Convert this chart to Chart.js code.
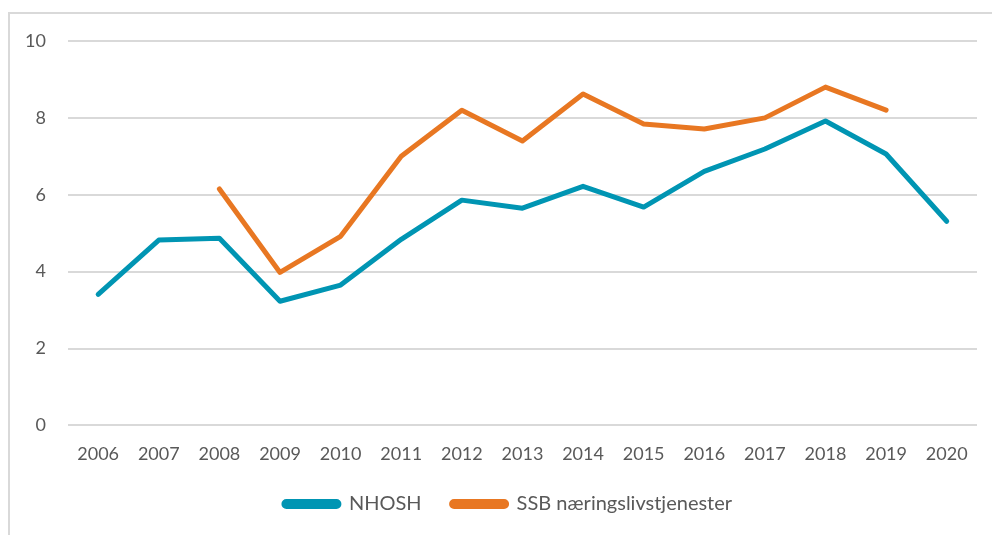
<!DOCTYPE html>
<html>
<head>
<meta charset="utf-8">
<script src="https://cdn.jsdelivr.net/npm/chart.js@4"></script>
<style>
  html, body { margin: 0; padding: 0; background: #fff; }
  #wrap { position: relative; width: 992px; height: 535px; }
</style>
</head>
<body>
<div id="wrap"><canvas id="chart"></canvas></div>
<script>
const years = ["2006", "2007", "2008", "2009", "2010", "2011", "2012", "2013", "2014", "2015", "2016", "2017", "2018", "2019", "2020"];
const nhosh = [3.41, 4.82, 4.87, 3.23, 3.65, 4.84, 5.86, 5.65, 6.22, 5.68, 6.61, 7.19, 7.92, 7.06, 5.31];
const ssb = [null, null, 6.15, 3.98, 4.92, 7.0, 8.2, 7.4, 8.62, 7.84, 7.71, 8.0, 8.8, 8.2, null];
const yTicks = [0, 2, 4, 6, 8, 10];

const teal = "#0095b3";
const orange = "#e87722";
const grid = "#d9d9d9";
const textCol = "#595959";
const fontFam = "Lato, 'Open Sans', sans-serif";

// light frame around the chart area, like the exported office chart
const framePlugin = {
  id: "frame",
  beforeDraw(chart) {
    const ctx = chart.ctx;
    ctx.save();
    ctx.strokeStyle = grid;
    ctx.lineWidth = 2;
    ctx.beginPath();
    ctx.moveTo(9, chart.height + 5);
    ctx.lineTo(9, 13);
    ctx.lineTo(chart.width + 5, 13);
    ctx.stroke();
    ctx.restore();
  }
};

// nudge the legend a bit up and right, without changing the plot area
const legendNudge = {
  id: "legendNudge",
  afterLayout(chart) {
    const lg = chart.legend;
    if (!lg) return;
    lg.top -= 11; lg.bottom -= 11;
    lg.left += 18; lg.right += 18;
  }
};

const lineStyle = {
  borderWidth: 5,
  pointRadius: 0,
  pointHoverRadius: 0,
  tension: 0,
  borderCapStyle: "round",
  borderJoinStyle: "round",
  spanGaps: false
};

new Chart(document.getElementById("chart"), {
  type: "line",
  data: {
    labels: years,
    datasets: [
      Object.assign({ label: "NHOSH", data: nhosh, borderColor: teal, backgroundColor: teal }, lineStyle),
      Object.assign({ label: "SSB næringslivstjenester", data: ssb, borderColor: orange, backgroundColor: orange }, lineStyle)
    ]
  },
  options: {
    responsive: true,
    maintainAspectRatio: false,
    animation: false,
    layout: { padding: { left: 3, right: 15, top: 41, bottom: 0 } },
    plugins: {
      tooltip: { enabled: false },
      legend: {
        position: "bottom",
        labels: {
          boxWidth: 55,
          boxHeight: 5,
          useBorderRadius: true,
          borderRadius: 2.5,
          padding: 30,
          color: textCol,
          font: { family: fontFam, size: 20 }
        }
      }
    },
    scales: {
      x: {
        offset: true,
        grid: { display: false },
        border: { display: false },
        ticks: { color: textCol, font: { family: fontFam, size: 18 }, padding: 10, maxRotation: 0 }
      },
      y: {
        min: 0,
        max: 10,
        afterBuildTicks(axis) { axis.ticks = yTicks.map(v => ({ value: v })); },
        grid: { color: grid, lineWidth: 2, drawTicks: false },
        border: { display: false },
        ticks: { color: textCol, font: { family: fontFam, size: 18 }, padding: 22 }
      }
    }
  },
  plugins: [framePlugin, legendNudge]
});
</script>
</body>
</html>
